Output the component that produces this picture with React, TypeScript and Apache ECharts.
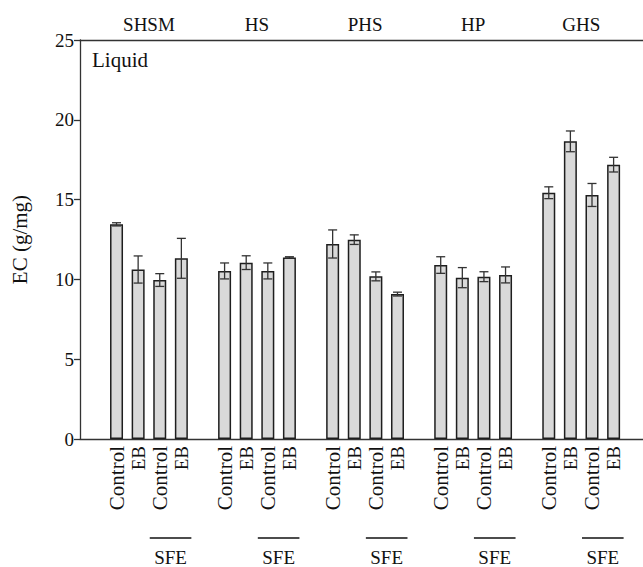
import React, { useEffect, useRef } from "react";
import * as echarts from "echarts";

const groups = ["SHSM", "HS", "PHS", "HP", "GHS"];
const barLabels = ["Control", "EB", "Control", "EB"];
const shsmValues = [13.45, 10.62, 9.96, 11.32];
const shsmErrors = [0.1, 0.85, 0.4, 1.25];
const hsValues = [10.53, 11.05, 10.53, 11.38];
const hsErrors = [0.5, 0.43, 0.5, 0.04];
const phsValues = [12.22, 12.49, 10.19, 9.08];
const phsErrors = [0.88, 0.3, 0.28, 0.12];
const hpValues = [10.9, 10.11, 10.17, 10.28];
const hpErrors = [0.52, 0.63, 0.31, 0.5];
const ghsValues = [15.43, 18.65, 15.29, 17.19];
const ghsErrors = [0.37, 0.65, 0.72, 0.46];
const yTicks = [0, 5, 10, 15, 20, 25];
const subLabel = "SFE";
const panelLabel = "Liquid";
const yName = "EC (g/mg)";

const allValues = [shsmValues, hsValues, phsValues, hpValues, ghsValues];
const allErrors = [shsmErrors, hsErrors, phsErrors, hpErrors, ghsErrors];

const FONT = "'Liberation Serif', 'Times New Roman', serif";
const FS = 19;
const FS_LOWER = 21;
const SLOT = 5; // 4 bars + 1 gap per group

export default function App() {
  const ref = useRef<HTMLDivElement>(null);
  useEffect(() => {
    if (!ref.current) return;
    const chart = echarts.init(ref.current, undefined, { renderer: "svg" });

    const barData: number[][] = [];
    const errData: number[][] = [];
    const barPositions: number[] = [];
    const posLabel: Record<string, string> = {};
    const groupCenters: number[] = [];
    const groupLabel: Record<string, string> = {};
    groups.forEach((g, gi) => {
      allValues[gi].forEach((v, k) => {
        const p = gi * SLOT + k;
        barData.push([p, v]);
        errData.push([p, v - allErrors[gi][k], v + allErrors[gi][k]]);
        barPositions.push(p);
        posLabel[String(p)] = barLabels[k];
      });
      const c = gi * SLOT + 1.5;
      groupCenters.push(c);
      groupLabel[String(c)] = g;
    });

    const xMin = -1.69;
    const xMax = 24.36;
    const axisColor = "#333";
    const textColor = "#111111";

    chart.setOption({
      animation: false,
      textStyle: { fontFamily: FONT },
      grid: { left: 80, right: 0, top: 40, bottom: 128, containLabel: false },
      xAxis: [
        {
          type: "value",
          position: "bottom",
          min: xMin,
          max: xMax,
          splitLine: { show: false },
          axisLine: { show: true, onZero: false, lineStyle: { color: axisColor, width: 1.3 } },
          axisTick: { show: false },
          axisLabel: {
            customValues: barPositions,
            rotate: 90,
            margin: 7,
            fontFamily: FONT,
            fontSize: FS,
            color: textColor,
            formatter: (v: number) => {
              const t = posLabel[String(v)] ?? "";
              return t === "Control" ? `{c|${t}}` : `{e|${t}}`;
            },
            rich: {
              c: { fontFamily: FONT, fontSize: FS_LOWER, color: textColor },
              e: { fontFamily: FONT, fontSize: FS, color: textColor },
            },
          },
        },
        {
          type: "value",
          position: "top",
          min: xMin,
          max: xMax,
          splitLine: { show: false },
          axisLine: { show: true, onZero: false, lineStyle: { color: axisColor, width: 1.3 } },
          axisTick: { show: false },
          axisLabel: {
            customValues: groupCenters,
            margin: 6,
            fontFamily: FONT,
            fontSize: FS,
            color: textColor,
            formatter: (v: number) => groupLabel[String(v)] ?? "",
          },
        },
      ],
      yAxis: {
        type: "value",
        position: "left",
        min: yTicks[0],
        max: yTicks[yTicks.length - 1],
        interval: 5,
        name: yName,
        nameLocation: "middle",
        nameGap: 50,
        nameTextStyle: { fontFamily: FONT, fontSize: FS_LOWER, color: textColor },
        splitLine: { show: false },
        axisLine: { show: true, onZero: false, lineStyle: { color: axisColor, width: 1.3 } },
        axisTick: { show: true, length: 6, lineStyle: { color: axisColor, width: 1.3 } },
        axisLabel: { margin: 6, fontFamily: FONT, fontSize: FS, color: textColor },
      },
      series: [
        {
          type: "bar",
          xAxisIndex: 0,
          data: barData,
          barWidth: 13,
          itemStyle: { color: "#d9d9d9", borderColor: "#1e1e1e", borderWidth: 1.5 },
        },
        {
          type: "custom",
          xAxisIndex: 0,
          data: errData,
          z: 10,
          renderItem: (params: any, api: any) => {
            const x = api.value(0);
            const lo = api.coord([x, api.value(1)]);
            const hi = api.coord([x, api.value(2)]);
            const cw = 4.5;
            const style = { stroke: "#333", lineWidth: 1.3, fill: "none" };
            return {
              type: "group",
              children: [
                { type: "line", shape: { x1: hi[0], y1: hi[1], x2: lo[0], y2: lo[1] }, style },
                { type: "line", shape: { x1: hi[0] - cw, y1: hi[1], x2: hi[0] + cw, y2: hi[1] }, style },
                { type: "line", shape: { x1: lo[0] - cw, y1: lo[1], x2: lo[0] + cw, y2: lo[1] }, style },
              ],
            };
          },
        },
      ],
    });

    const graphics: any[] = [
      {
        type: "text",
        left: 92,
        top: 49,
        style: { text: panelLabel, fontFamily: FONT, fontSize: FS_LOWER, fill: textColor },
      },
    ];
    groups.forEach((g, gi) => {
      const x3 = chart.convertToPixel({ xAxisIndex: 0 }, gi * SLOT + 2) as number;
      const x4 = chart.convertToPixel({ xAxisIndex: 0 }, gi * SLOT + 3) as number;
      graphics.push({
        type: "line",
        shape: { x1: x3 - 10, y1: 538, x2: x4 + 10, y2: 538 },
        style: { stroke: "#111", lineWidth: 1.3 },
      });
      graphics.push({
        type: "text",
        x: (x3 + x4) / 2,
        y: 548,
        style: {
          text: subLabel,
          fontFamily: FONT,
          fontSize: FS,
          fill: textColor,
          align: "center",
          verticalAlign: "top",
        },
      });
    });
    chart.setOption({ graphic: graphics });

    return () => chart.dispose();
  }, []);
  return (
    <div
      ref={ref}
      style={{ position: "absolute", left: 0, top: 0, width: 643, height: 567 }}
    />
  );
}
